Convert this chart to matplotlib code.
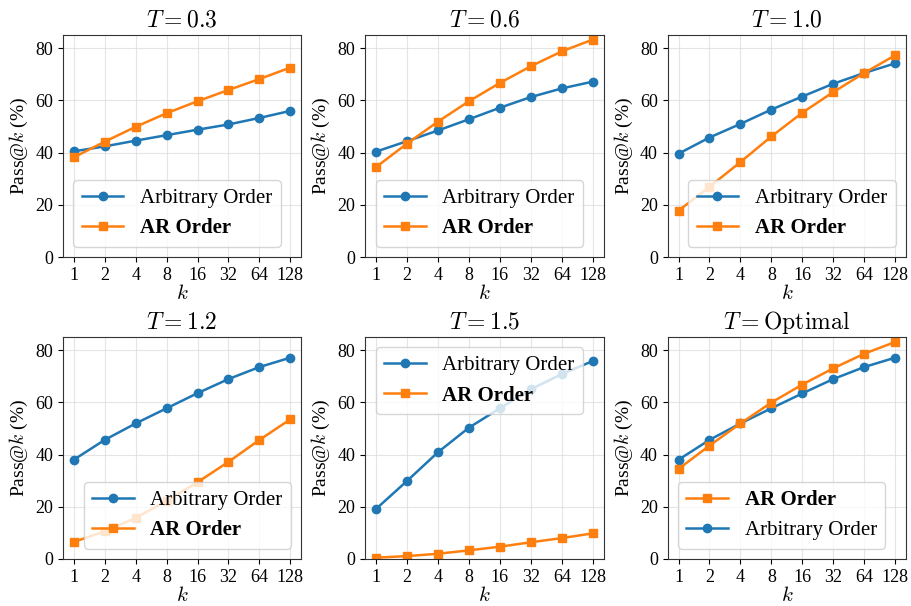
import matplotlib
matplotlib.use("Agg")
import matplotlib.pyplot as plt

plt.rcParams['font.family'] = ['Liberation Serif', 'DejaVu Serif']
plt.rcParams['mathtext.fontset'] = 'cm'

k_labels = ["1", "2", "4", "8", "16", "32", "64", "128"]
titles = [r"$T=0.3$", r"$T=0.6$", r"$T=1.0$", r"$T=1.2$", r"$T=1.5$", r"$T=\mathrm{Optimal}$"]

arbitrary = [
    [40.5, 42.4, 44.6, 46.7, 48.8, 50.8, 53.3, 56.0],
    [40.4, 44.4, 48.5, 52.8, 57.2, 61.3, 64.6, 67.2],
    [39.6, 45.8, 51.0, 56.5, 61.5, 66.4, 70.5, 74.2],
    [38.0, 45.6, 51.9, 57.7, 63.5, 68.9, 73.5, 77.1],
    [19.2, 29.9, 40.9, 50.3, 57.7, 65.0, 70.8, 75.8],
    [38.0, 45.6, 51.9, 57.7, 63.4, 68.9, 73.5, 77.1],
]
ar_order = [
    [38.2, 44.2, 49.9, 55.1, 59.7, 64.0, 68.2, 72.6],
    [34.5, 43.5, 51.9, 59.7, 66.7, 73.1, 78.8, 83.3],
    [17.8, 26.9, 36.4, 46.2, 55.3, 63.2, 70.5, 77.3],
    [6.5, 10.6, 15.7, 22.3, 29.4, 37.2, 45.6, 53.5],
    [0.5, 1.1, 2.0, 3.3, 4.7, 6.4, 8.0, 9.8],
    [34.5, 43.4, 51.9, 59.9, 66.8, 73.0, 78.6, 83.1],
]
legend_locs = ["lower left", "lower left", "lower right", "lower right", "upper left", "lower left"]
ar_first = [False, False, False, False, False, True]

fig, axes = plt.subplots(2, 3, figsize=(9.12, 6.06), dpi=100)
fig.subplots_adjust(left=0.069, right=0.9934, top=0.942, bottom=0.0776, wspace=0.269, hspace=0.36)

x = list(range(len(k_labels)))
for i, ax in enumerate(axes.flat):
    la, = ax.plot(x, arbitrary[i], color="#1f77b4", marker="o", lw=1.8, ms=6, label="Arbitrary Order")
    lb, = ax.plot(x, ar_order[i], color="#ff7f0e", marker="s", lw=1.8, ms=6, label="AR Order")
    ax.set_ylim(0, 85)
    ax.set_yticks([0, 20, 40, 60, 80])
    ax.set_xticks(x)
    ax.set_xticklabels(k_labels)
    ax.tick_params(labelsize=13)
    ax.grid(True, color="#d5d5d5", alpha=0.6, lw=0.8)
    for sp in ax.spines.values():
        sp.set_color("#333333")
    ax.set_title(titles[i], fontsize=17)
    ax.set_xlabel(r"$k$", fontsize=15, labelpad=1)
    ax.set_ylabel(r"Pass@$k$ (%)", fontsize=14)
    handles = [lb, la] if ar_first[i] else [la, lb]
    leg = ax.legend(handles=handles, loc=legend_locs[i], fontsize=15)
    for t in leg.get_texts():
        if t.get_text() == "AR Order":
            t.set_fontweight("bold")

fig.savefig("out.png", dpi=100)
